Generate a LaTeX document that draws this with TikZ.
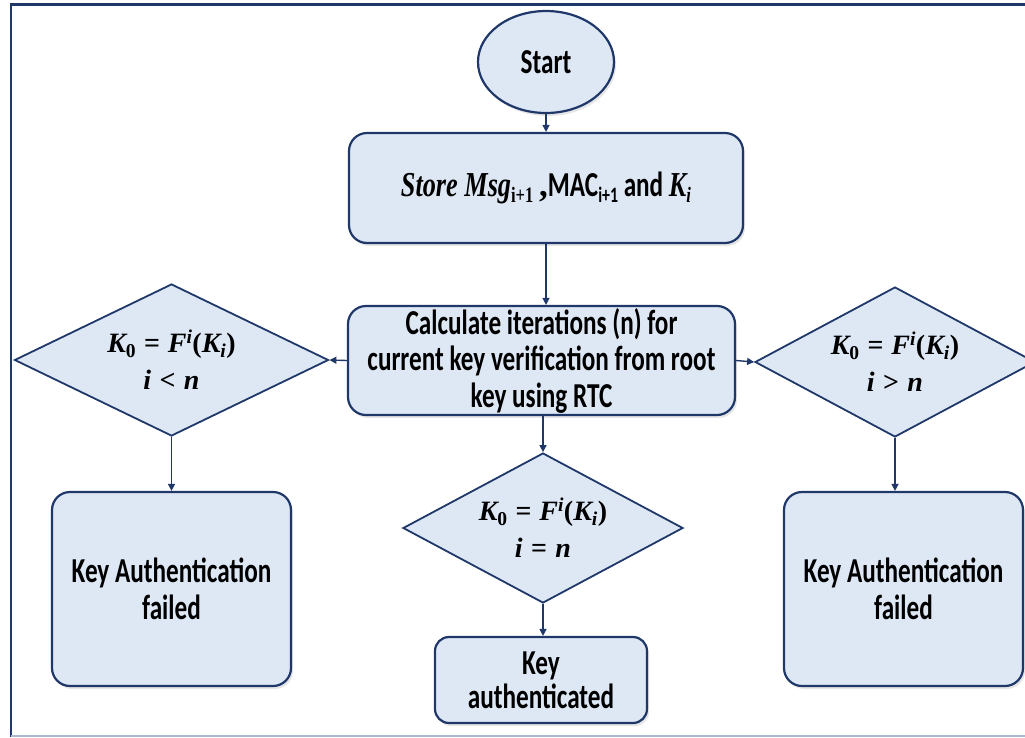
\documentclass[tikz,border=0pt]{standalone}
\usepackage[no-math]{fontspec}
\usepackage{graphicx}
\setmainfont{Carlito}[FakeStretch=0.72]
\newfontfamily\mfont{Liberation Serif}
\newfontfamily\mfontc{Liberation Serif}[FakeStretch=0.75]
\usetikzlibrary{shapes.geometric,arrows.meta,shadows}
\definecolor{navy}{RGB}{31,56,105}
\definecolor{boxfill}{RGB}{222,232,245}
\definecolor{framegray}{RGB}{170,184,208}
\newcommand{\mi}[1]{{\mfont\bfseries\itshape #1}}
\newcommand{\mr}[1]{{\mfont\bfseries #1}}
\newcommand{\eqK}{\mi{K}\textsubscript{\mr{0}}\hspace{0.28em}\mr{=}\hspace{0.28em}\mi{F}\textsuperscript{\mi{i}}\mr{(}\mi{K}\textsubscript{\mi{i}}\mr{)}}
\newcommand{\rel}[1]{\mi{i}\hspace{0.3em}\mr{#1}\hspace{0.3em}\mi{n}}
\begin{document}
\begin{tikzpicture}[x=1pt,y=-1pt,
  box/.style={draw=navy, line width=2.2pt, fill=boxfill, rounded corners=18pt, align=center,
    font=\bfseries\fontsize{35}{36.5}\selectfont, inner sep=0pt,
    drop shadow={opacity=0.2, shadow xshift=2pt, shadow yshift=-3pt}},
  dia/.style={draw=navy, line width=1.8pt, fill=boxfill, shape=diamond, aspect=2, inner sep=0pt,
    align=center, font=\fontsize{28}{37}\selectfont},
  term/.style={draw=navy, line width=2.2pt, fill=boxfill, shape=ellipse, inner sep=0pt,
    font=\bfseries\fontsize{35}{36.5}\selectfont,
    drop shadow={opacity=0.2, shadow xshift=2pt, shadow yshift=-3pt}},
  conn/.style={draw=navy, line width=1.4pt, -{Triangle[length=7pt,width=7pt]}}
]
\useasboundingbox (0,0) rectangle (1025,737);
\draw[navy, line width=2.2pt] (11,737) -- (11,4.5) -- (1030,4.5);
\draw[framegray, line width=1.5pt] (11,736) -- (1030,736);

\node[term, minimum width=136pt, minimum height=102pt] (start) at (546,62) {Start};
\node[box, minimum width=394pt, minimum height=110pt] (store) at (546,188)
  {{\mfontc\bfseries\itshape Store Msg}{\fontsize{22}{22}\selectfont\raisebox{-6pt}{\mfontc\bfseries i+1}}\,{\mfont\bfseries,}MAC{\fontsize{22}{22}\selectfont\mdseries\raisebox{-6pt}{\bfseries i+1}} and {\mfontc\bfseries\itshape K}{\fontsize{22}{22}\selectfont\raisebox{-6pt}{\mfontc\bfseries\itshape i}}};
\node[box, minimum width=387pt, minimum height=109pt] (calc) at (541.5,360.5)
  {Calculate iterations (n) for\\current key verification from root\\key using RTC};
\node[dia, minimum width=314pt, minimum height=152pt] (ld) at (171.5,360)
  {\eqK\\\rel{<}};
\node[dia, minimum width=280pt, minimum height=150pt] (rd) at (895,362)
  {\eqK\\\rel{>}};
\node[dia, minimum width=280pt, minimum height=150pt] (md) at (543,528)
  {\eqK\\\rel{=}};
\node[box, minimum width=239pt, minimum height=194pt] (lbox) at (171.5,589)
  {Key Authentication\\failed};
\node[box, minimum width=239pt, minimum height=194pt] (rbox) at (903.5,589)
  {Key Authentication\\failed};
\node[box, rounded corners=14pt, minimum width=212pt, minimum height=86pt, font=\bfseries\fontsize{35}{34}\selectfont] (kbox) at (541,680)
  {Key\\authenticated};

\draw[conn] (start.south) -- (store.north);
\draw[conn] (store.south) -- (store.south |- calc.north);
\draw[conn] (calc.west) -- (ld.east);
\draw[conn] (calc.east) -- (rd.west);
\draw[conn] (calc.south -| md.north) -- (md.north);
\draw[conn] (ld.south) -- (ld.south |- lbox.north);
\draw[conn] (rd.south) -- (rd.south |- rbox.north);
\draw[conn] (md.south) -- (md.south |- kbox.north);
\end{tikzpicture}
\end{document}
